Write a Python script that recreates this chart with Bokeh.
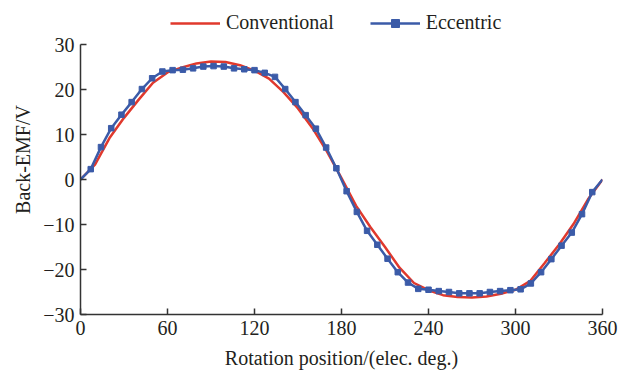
from bokeh.plotting import figure
from bokeh.models import Range1d, FixedTicker, Legend, LegendItem
from bokeh.embed import file_html
from bokeh.resources import INLINE

# Eccentric (line + square markers)
ecc_x = [0, 7.06, 14.12, 21.18, 28.24, 35.29, 42.35, 49.41, 56.47, 63.53,
         70.59, 77.65, 84.71, 91.76, 98.82, 105.88, 112.94, 120.0, 127.06, 134.12,
         141.18, 148.24, 155.29, 162.35, 169.41, 176.47, 183.53, 190.59, 197.65, 204.71,
         211.76, 218.82, 225.88, 232.94, 240.0, 247.06, 254.12, 261.18, 268.24, 275.29,
         282.35, 289.41, 296.47, 303.53, 310.59, 317.65, 324.71, 331.76, 338.82, 345.88,
         352.94, 360.0]
ecc_y = [0, 2.3, 7.2, 11.4, 14.4, 17.2, 20.1, 22.5, 24.0, 24.3,
         24.4, 24.7, 25.1, 25.2, 25.1, 24.7, 24.5, 24.3, 23.7, 22.8,
         20.1, 17.2, 14.3, 11.3, 7.1, 2.5, -2.6, -7.2, -11.4, -14.5,
         -17.6, -20.6, -22.9, -24.3, -24.5, -24.8, -25.0, -25.3, -25.3, -25.3,
         -25.0, -24.8, -24.6, -24.4, -23.1, -20.6, -17.7, -14.7, -11.8, -7.7,
         -2.8, 0]

# Conventional (smooth line)
conv_x = [0, 10, 20, 30, 40, 50, 60, 70, 80, 90, 100, 110, 120, 130, 140, 150, 160, 170, 180,
          190, 200, 210, 220, 230, 240, 250, 260, 270, 280, 290, 300, 310, 320, 330, 340, 350, 360]
conv_y = [0, 3.3, 9.2, 13.7, 17.7, 21.5, 23.8, 24.9, 25.8, 26.2, 26.1, 25.4, 24.2, 22.4, 19.4,
          15.8, 11.4, 6.2, 0.3, -5.8, -10.6, -15.0, -19.6, -23.0, -24.6, -25.7, -26.1, -26.2,
          -26.0, -25.4, -24.5, -22.6, -18.6, -14.5, -9.9, -4.4, 0]

x_ticks = [0, 60, 120, 180, 240, 300, 360]
y_ticks = [-30, -20, -10, 0, 10, 20, 30]
y_tick_labels = ["\u221230", "\u221220", "\u221210", "0", "10", "20", "30"]

RED = "#e0392d"
BLUE = "#3b5ba8"
FONT = "Liberation Serif"
TXT = "#231f20"

# frame: 4..314 px tall (310 px); data -30..30 spans 270 px -> extra headroom above 30
Y_TOP = 30 + 40 * 60 / 270.0

p = figure(width=632, height=373, output_backend="svg", toolbar_location=None,
           x_range=Range1d(0, 360), y_range=Range1d(-30, Y_TOP),
           min_border_left=80, min_border_right=30, min_border_top=4, min_border_bottom=59)
p.grid.visible = False
p.outline_line_color = None

r_conv = p.line(conv_x, conv_y, line_color=RED, line_width=2.5)
r_ecc = p.line(ecc_x, ecc_y, line_color=BLUE, line_width=2.5)
r_ecc_m = p.scatter(ecc_x[1:-1], ecc_y[1:-1], marker="square", size=5.5,
                    fill_color=BLUE, line_color=BLUE)

for ax, ticks in ((p.xaxis[0], x_ticks), (p.yaxis[0], y_ticks)):
    ax.ticker = FixedTicker(ticks=ticks)
    ax.major_tick_in = 6
    ax.major_tick_out = 0
    ax.minor_tick_line_color = None
    ax.axis_line_color = "#333333"
    ax.axis_line_width = 1.5
    ax.major_tick_line_color = "#333333"
    ax.major_tick_line_width = 1.5
    ax.major_label_text_font = FONT
    ax.major_label_text_font_size = "20px"
    ax.major_label_text_color = TXT
    ax.axis_label_text_font = FONT
    ax.axis_label_text_font_size = "20px"
    ax.axis_label_text_font_style = "normal"
    ax.axis_label_text_color = TXT

p.yaxis.bounds = (-30, 30)
p.yaxis.major_label_overrides = {v: s for v, s in zip(y_ticks, y_tick_labels)}
p.xaxis.axis_label = "Rotation position/(elec. deg.)"
p.yaxis.axis_label = "Back-EMF/V"
p.xaxis.major_label_standoff = 6
p.yaxis.major_label_standoff = 6
p.xaxis.axis_label_standoff = 9
p.yaxis.axis_label_standoff = 6

legend = Legend(items=[LegendItem(label="Conventional", renderers=[r_conv]),
                       LegendItem(label="Eccentric", renderers=[r_ecc, r_ecc_m])],
                orientation="horizontal", location=(90, 280),
                glyph_width=50, glyph_height=20, label_standoff=6, spacing=36,
                padding=0, margin=0, border_line_color=None, background_fill_alpha=0,
                label_text_font=FONT, label_text_font_size="20px", label_text_color=TXT)
p.add_layout(legend, "center")

open("out.html", "w").write(file_html(p, INLINE))
